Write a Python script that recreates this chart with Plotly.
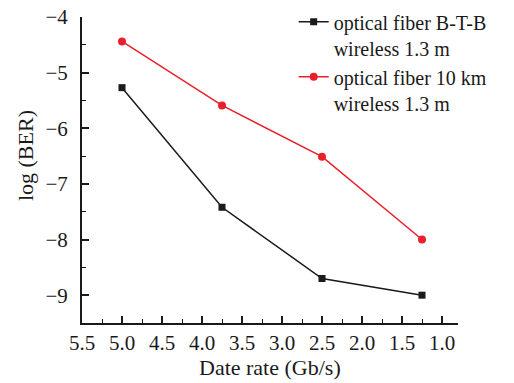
import plotly.graph_objects as go

rates = [5.0, 3.75, 2.5, 1.25]
ber_btb = [-5.27, -7.42, -8.70, -9.00]
ber_10km = [-4.44, -5.59, -6.51, -8.00]
names = ["optical fiber B-T-B<br>wireless 1.3 m", "optical fiber 10 km<br>wireless 1.3 m"]
x_title = "Date rate (Gb/s)"
y_title = "log (BER)"

font = "Liberation Serif"
ink = "#1a1a1a"
fig = go.Figure()
fig.add_trace(go.Scatter(x=rates, y=ber_btb, mode="lines+markers", name=names[0],
                         line=dict(color=ink, width=1.5),
                         marker=dict(symbol="square", size=7, color=ink)))
fig.add_trace(go.Scatter(x=rates, y=ber_10km, mode="lines+markers", name=names[1],
                         line=dict(color="#e8202a", width=1.5),
                         marker=dict(symbol="circle", size=8, color="#e8202a")))

axis_common = dict(ticks="inside", ticklen=7, tickwidth=1.5, tickcolor=ink,
                   showline=True, linecolor=ink, linewidth=2,
                   showgrid=False, zeroline=False, automargin=False,
                   tickfont=dict(size=21, family=font, color=ink))

fig.update_layout(
    width=514, height=383,
    margin=dict(l=82, r=0, t=2, b=60),
    paper_bgcolor="white", plot_bgcolor="white",
    font=dict(family=font, size=20, color=ink),
    showlegend=True,
    legend=dict(x=0.49, y=0.999, xanchor="left", yanchor="top",
                bgcolor="rgba(0,0,0,0)", font=dict(size=20, family=font, color=ink),
                valign="top", tracegroupgap=0, itemwidth=30),
    xaxis=dict(domain=[0, 0.8704], range=[5.5, 0.8], tick0=1.0, dtick=0.5, tickformat=".1f",
               ticklabelstandoff=0,
               minor=dict(dtick=0.25, ticks="inside", ticklen=4, tickwidth=1.2, tickcolor=ink),
               **axis_common),
    yaxis=dict(domain=[0, 0.9533], range=[-9.5, -4], tick0=-4, dtick=1, ticklabelstandoff=8,
               minor=dict(dtick=0.5, ticks="inside", ticklen=4, tickwidth=1.2, tickcolor=ink),
               **axis_common),
    annotations=[
        dict(text=x_title, xref="paper", yref="paper", x=0.435, y=-0.140,
             xanchor="center", yanchor="middle", showarrow=False,
             font=dict(size=22, family=font, color=ink)),
        dict(text=y_title, xref="paper", yref="paper", x=-0.132, y=0.523,
             xanchor="center", yanchor="middle", showarrow=False, textangle=-90,
             font=dict(size=22, family=font, color=ink)),
    ],
)

fig.write_html("out.html", config={"displayModeBar": False},
               post_script="document.body.style.margin='0px';")
